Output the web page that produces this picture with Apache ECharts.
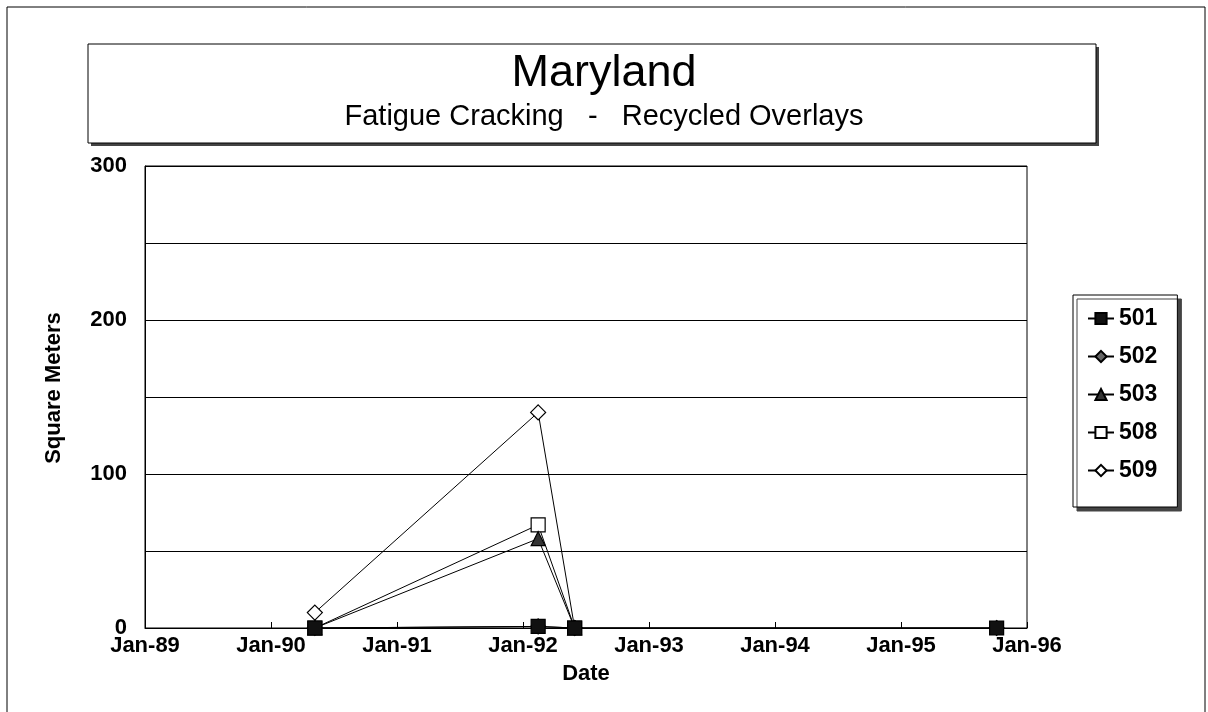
<!DOCTYPE html>
<html>
<head>
<meta charset="utf-8">
<script src="https://cdn.jsdelivr.net/npm/echarts@6/dist/echarts.min.js"></script>
<style>
  html, body { margin: 0; padding: 0; background: #fff; }
  #chart { width: 1208px; height: 712px; }
</style>
</head>
<body>
<div id="chart"></div>
<script>
// survey dates
const dates = ['1990-05-08', '1992-02-14', '1992-05-30', '1995-10-05']
const seriesNames = ['501', '502', '503', '508', '509']
const s501 = [0, 1, 0, 0]
const s502 = [0, 1, 0, 0]
const s503 = [0, 58, 0]
const s508 = [0, 67, 0]
const s509 = [10, 140, 0]
const yearTicks = [1989, 1990, 1991, 1992, 1993, 1994, 1995, 1996]

// date string -> fractional year
function toYear(s) {
  const d = new Date(s + 'T00:00:00Z')
  const y = d.getUTCFullYear()
  const start = Date.UTC(y, 0, 1)
  const end = Date.UTC(y + 1, 0, 1)
  return y + (d.getTime() - start) / (end - start)
}

function pairs(vals) {
  return vals.map((v, i) => [toYear(dates[i]), v])
}

const markers = {
  '501': { symbol: 'rect', color: '#111', size: 14 },
  '502': { symbol: 'diamond', color: '#666', size: 15 },
  '503': { symbol: 'triangle', color: '#333', size: 14 },
  '508': { symbol: 'rect', color: '#fff', size: 14 },
  '509': { symbol: 'diamond', color: '#fff', size: 15 }
}
const values = { '501': s501, '502': s502, '503': s503, '508': s508, '509': s509 }

const chart = echarts.init(document.getElementById('chart'))

const option = {
  animation: false,
  backgroundColor: '#fff',
  textStyle: { fontFamily: 'Liberation Sans, Arial, sans-serif', color: '#000' },
  title: {
    text: 'Maryland',
    subtext: 'Fatigue Cracking   -   Recycled Overlays',
    left: 'center',
    top: 46,
    itemGap: 6,
    textStyle: { fontSize: 45, fontWeight: 'normal', color: '#000' },
    subtextStyle: { fontSize: 29, color: '#000' }
  },
  legend: {
    orient: 'vertical',
    left: 1073,
    top: 295,
    padding: [12, 20, 25, 14],
    itemGap: 15,
    itemWidth: 26,
    itemHeight: 14,
    backgroundColor: '#fff',
    borderColor: '#000',
    borderWidth: 1,
    shadowColor: '#444',
    shadowOffsetX: 4,
    shadowOffsetY: 4,
    shadowBlur: 0,
    textStyle: { fontSize: 23, fontWeight: 'bold', color: '#000' },
    data: seriesNames
  },
  graphic: [
    { // outer frame
      type: 'rect', z: -10,
      shape: { x: 7, y: 7, width: 1198, height: 712 },
      style: { fill: null, stroke: '#000', lineWidth: 1 }
    },
    { // title box shadow
      type: 'rect', z: -2,
      shape: { x: 91, y: 47, width: 1008, height: 99 },
      style: { fill: '#444' }
    },
    { // title box
      type: 'rect', z: -1,
      shape: { x: 88, y: 44, width: 1008, height: 99 },
      style: { fill: '#fff', stroke: '#000', lineWidth: 1 }
    }
  ],
  grid: {
    left: 145,
    right: 181,
    top: 166,
    bottom: 84,
    show: true,
    borderColor: '#000',
    borderWidth: 1,
    containLabel: false
  },
  xAxis: {
    type: 'value',
    min: 1989,
    max: 1996,
    interval: 1,
    name: 'Date',
    nameLocation: 'middle',
    nameGap: 35,
    nameTextStyle: { fontSize: 22, fontWeight: 'bold', color: '#000' },
    axisLine: { show: true, lineStyle: { color: '#000', width: 1 } },
    axisTick: { show: true, inside: true, length: 6, lineStyle: { color: '#000' } },
    splitLine: { show: false },
    axisLabel: {
      fontSize: 22,
      fontWeight: 'bold',
      color: '#000',
      margin: 7,
      formatter: v => yearTicks.indexOf(v) >= 0 ? 'Jan-' + String(v).slice(2) : ''
    }
  },
  yAxis: {
    type: 'value',
    min: 0,
    max: 300,
    interval: 50,
    name: 'Square Meters',
    nameLocation: 'middle',
    nameGap: 80,
    nameTextStyle: { fontSize: 22, fontWeight: 'bold', color: '#000', padding: [0, 0, 0, 18] },
    axisLine: { show: true, lineStyle: { color: '#000', width: 1 } },
    axisTick: { show: false },
    splitLine: { show: true, lineStyle: { color: '#000', width: 1.2 } },
    axisLabel: {
      fontSize: 22,
      fontWeight: 'bold',
      color: '#000',
      margin: 18,
      formatter: v => v % 100 === 0 ? String(v) : ''
    }
  },
  series: seriesNames.slice().reverse().map(name => ({
    name: name,
    type: 'line',
    data: pairs(values[name]),
    symbol: markers[name].symbol,
    symbolSize: markers[name].size,
    showAllSymbol: true,
    lineStyle: { color: '#000', width: 1 },
    itemStyle: { color: markers[name].color, borderColor: '#000', borderWidth: 1.2 },
    emphasis: { disabled: true }
  }))
}

chart.setOption(option)
</script>
</body>
</html>
